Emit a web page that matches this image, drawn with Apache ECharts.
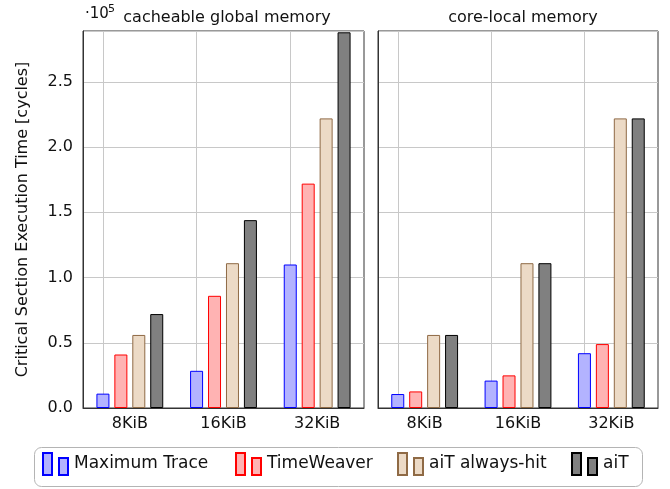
<!DOCTYPE html>
<html><head><meta charset="utf-8">
<script src="https://cdn.jsdelivr.net/npm/echarts@6/dist/echarts.min.js"></script>
<style>html,body{margin:0;padding:0;background:#fff}#c{width:670px;height:489px}</style>
</head><body><div id="c"></div>
<script>
const categories = ['8KiB', '16KiB', '32KiB'];
const seriesNames = ['Maximum Trace', 'TimeWeaver', 'aiT always-hit', 'aiT'];
const globalMaxTrace = [0.11, 0.285, 1.10];
const globalTimeWeaver = [0.41, 0.86, 1.72];
const globalAitAlwaysHit = [0.56, 1.11, 2.22];
const globalAit = [0.72, 1.44, 2.88];
const localMaxTrace = [0.107, 0.21, 0.42];
const localTimeWeaver = [0.127, 0.25, 0.49];
const localAitAlwaysHit = [0.56, 1.11, 2.22];
const localAit = [0.56, 1.11, 2.22];
const panelTitles = ['cacheable global memory', 'core-local memory'];
const yAxisName = 'Critical Section Execution Time [cycles]';

const FONT = 'DejaVu Sans';
const FS = 16;
const styles = [
  {color: '#b3b3ff', borderColor: '#0000ff'},
  {color: '#ffb3b3', borderColor: '#ff0000'},
  {color: '#ecdac6', borderColor: '#8f6a45'},
  {color: '#808080', borderColor: '#000000'}
];
const panels = [
  [globalMaxTrace, globalTimeWeaver, globalAitAlwaysHit, globalAit],
  [localMaxTrace, localTimeWeaver, localAitAlwaysHit, localAit]
];
const grids = [
  {left: 83, top: 31, width: 281, height: 377},
  {left: 378, top: 31, width: 280, height: 377}
];
const legendLefts = [42, 235, 397, 571];
const chart = echarts.init(document.getElementById('c'), null, {renderer: 'canvas'});
const series = [];
panels.forEach((p, gi) => {
  p.forEach((vals, si) => {
    const s = {
      name: seriesNames[si], type: 'bar', xAxisIndex: gi, yAxisIndex: gi,
      data: vals, barWidth: 13, barGap: '38%',
      itemStyle: {color: styles[si].color, borderColor: styles[si].borderColor, borderWidth: 1},
      emphasis: {disabled: true}
    };
    if (si === 0) {
      s.markLine = {
        silent: true, symbol: 'none', label: {show: false},
        lineStyle: {color: '#c8c8c8', type: 'solid', width: 1},
        data: categories.map(c => ({xAxis: c})),
        z: 0
      };
    }
    series.push(s);
  });
});
const legendIcon = 'path://M0,0h9v22h-9z M16,5h9v17h-9z';
chart.setOption({
  animation: false,
  textStyle: {fontFamily: FONT},
  grid: grids.map(g => Object.assign({show: true, borderColor: '#333', borderWidth: 1, backgroundColor: 'transparent'}, g)),
  xAxis: grids.map((g, i) => ({
    type: 'category', gridIndex: i, data: categories,
    axisLine: {lineStyle: {color: '#333'}}, axisTick: {show: false},
    axisLabel: {color: '#111', fontSize: FS, fontFamily: FONT, margin: 8},
    splitLine: {show: false}
  })),
  yAxis: grids.map((g, i) => ({
    type: 'value', gridIndex: i, min: 0, max: 2.89, interval: 0.5,
    name: i === 0 ? yAxisName : '', nameLocation: 'middle', nameGap: 52,
    nameTextStyle: {color: '#111', fontSize: FS, fontFamily: FONT},
    axisLine: {show: true, lineStyle: {color: '#333'}}, axisTick: {show: false},
    axisLabel: {show: i === 0, color: '#111', fontSize: FS, fontFamily: FONT, margin: 10,
      showMaxLabel: false, formatter: v => v.toFixed(1)},
    splitLine: {show: true, lineStyle: {color: '#c8c8c8', width: 1}}
  })),
  title: [
    {text: panelTitles[0], left: 222, top: 5, textAlign: 'center',
      textStyle: {fontSize: FS, fontWeight: 'normal', color: '#111', fontFamily: FONT}},
    {text: panelTitles[1], left: 518, top: 5, textAlign: 'center',
      textStyle: {fontSize: FS, fontWeight: 'normal', color: '#111', fontFamily: FONT}}
  ],
  graphic: [
    {type: 'text', left: 85, top: 7, style: {text: '·10', fill: '#111', font: '15px "DejaVu Sans"'}},
    {type: 'text', left: 108, top: 4, style: {text: '5', fill: '#111', font: '11px "DejaVu Sans"'}},
    {type: 'rect', left: 34, top: 447, shape: {width: 608, height: 39, r: 7},
      style: {fill: '#fff', stroke: '#b4b4b4', lineWidth: 1}, z: -1}
  ],
  legend: seriesNames.map((n, i) => ({
    data: [n], left: legendLefts[i], top: 452, padding: 0,
    icon: legendIcon, itemWidth: 25, itemHeight: 22, itemGap: 0,
    textStyle: {fontSize: 17, color: '#111', fontFamily: FONT, padding: [5, 0, 0, 1]},
    selectedMode: false, z: 5
  })),
  series: series
});
</script></body></html>
